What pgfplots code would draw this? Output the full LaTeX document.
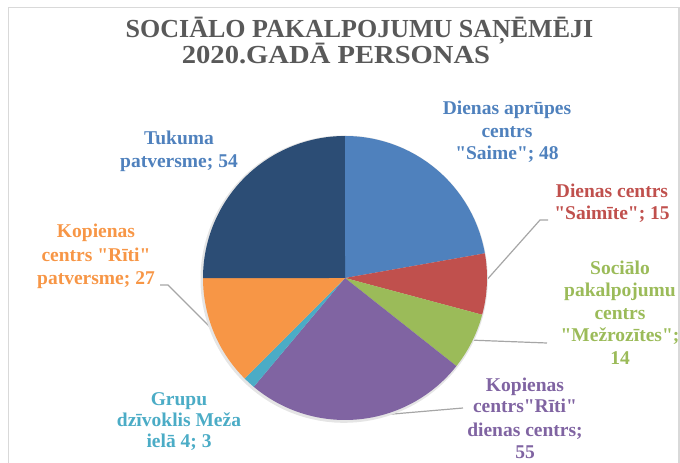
\documentclass[border=0pt]{standalone}
\usepackage{fontspec}
\setmainfont{Liberation Serif}
\usepackage{pgfplots}
\pgfplotsset{compat=1.18}
\definecolor{cBlue}{HTML}{4F81BD}
\definecolor{cRed}{HTML}{C0504D}
\definecolor{cGreen}{HTML}{9BBB59}
\definecolor{cPurple}{HTML}{8064A2}
\definecolor{cAqua}{HTML}{4BACC6}
\definecolor{cOrange}{HTML}{F79646}
\definecolor{cDark}{HTML}{2C4D75}
\definecolor{cTitle}{HTML}{595959}
\definecolor{cFrame}{HTML}{D9D9D9}
\definecolor{cLead}{HTML}{A6A6A6}
% slice values (clockwise from 12 o'clock)
\def\vA{48}\def\vB{15}\def\vC{14}\def\vD{55}\def\vE{3}\def\vF{27}\def\vG{54}
\newcommand\q{\textquotedbl}
\begin{document}
\begin{tikzpicture}
\path[use as bounding box] (0pt,0pt) rectangle (680pt,463pt);
\begin{scope}[yshift=463pt, x=1pt, y=-1pt]
\draw[cFrame, line width=1.5pt] (8.5,463) -- (8.5,7.5) -- (679,7.5) -- (679,463);
% leader lines
\draw[cLead, line width=1.2pt] (484,283) -- (540,220) -- (548,220);
\draw[cLead, line width=1.2pt] (468,340) -- (547,343);
\draw[cLead, line width=1.2pt] (358,417) -- (463,408);
\draw[cLead, line width=1.2pt] (216,333) -- (168,285) -- (160,285);
\end{scope}
\pgfmathsetmacro\tot{\vA+\vB+\vC+\vD+\vE+\vF+\vG}
\pgfmathsetmacro\aA{90}
\pgfmathsetmacro\aB{\aA-\vA/\tot*360}
\pgfmathsetmacro\aC{\aB-\vB/\tot*360}
\pgfmathsetmacro\aD{\aC-\vC/\tot*360}
\pgfmathsetmacro\aE{\aD-\vD/\tot*360}
\pgfmathsetmacro\aF{\aE-\vE/\tot*360}
\pgfmathsetmacro\aG{\aF-\vF/\tot*360}
\pgfmathsetmacro\aH{\aG-\vG/\tot*360}
\begin{axis}[at={(345pt,185pt)}, anchor=center, scale only axis,
  width=284pt, height=284pt, xmin=-1, xmax=1, ymin=-1, ymax=1,
  hide axis, clip=false]
\addplot[fill=black!10, draw=none, domain=0:360, samples=120, variable=\t] ({1.012*cos(\t)-0.006},{1.012*sin(\t)-0.008});
\addplot[fill=cBlue, draw=none, domain=\aB:\aA, samples=80, variable=\t] ({cos(\t)},{sin(\t)}) -- (axis cs:0,0) -- cycle;
\addplot[fill=cRed, draw=none, domain=\aC:\aB, samples=40, variable=\t] ({cos(\t)},{sin(\t)}) -- (axis cs:0,0) -- cycle;
\addplot[fill=cGreen, draw=none, domain=\aD:\aC, samples=40, variable=\t] ({cos(\t)},{sin(\t)}) -- (axis cs:0,0) -- cycle;
\addplot[fill=cPurple, draw=none, domain=\aE:\aD, samples=80, variable=\t] ({cos(\t)},{sin(\t)}) -- (axis cs:0,0) -- cycle;
\addplot[fill=cAqua, draw=none, domain=\aF:\aE, samples=10, variable=\t] ({cos(\t)},{sin(\t)}) -- (axis cs:0,0) -- cycle;
\addplot[fill=cOrange, draw=none, domain=\aG:\aF, samples=40, variable=\t] ({cos(\t)},{sin(\t)}) -- (axis cs:0,0) -- cycle;
\addplot[fill=cDark, draw=none, domain=\aH:\aG, samples=80, variable=\t] ({cos(\t)},{sin(\t)}) -- (axis cs:0,0) -- cycle;
\end{axis}
\begin{scope}[yshift=463pt, x=1pt, y=-1pt]
% title
\begin{scope}[every node/.style={anchor=base, inner sep=0pt, text=cTitle, font=\fontsize{26}{30}\selectfont\bfseries}]
\node at (359.5,38) {SOCIĀLO PAKALPOJUMU SAŅĒMĒJI};
\node[xscale=1.1] at (336,64) {2020.GADĀ PERSONAS};
\end{scope}
% labels
\begin{scope}[every node/.style={anchor=base, inner sep=0pt, font=\fontsize{19.5}{22}\selectfont\bfseries}]
\node[text=cBlue] at (507,115) {Dienas aprūpes};
\node[text=cBlue] at (507,138) {centrs};
\node[text=cBlue] at (507,160) {\q Saime\q; 48};
\node[text=cRed] at (612,198) {Dienas centrs};
\node[text=cRed] at (612,220) {\q Saimīte\q; 15};
\node[text=cGreen] at (620,275) {Sociālo};
\node[text=cGreen] at (620,297) {pakalpojumu};
\node[text=cGreen] at (620,320) {centrs};
\node[text=cGreen] at (620,342) {\q Mežrozītes\q;};
\node[text=cGreen] at (620,365) {14};
\node[text=cPurple] at (525,392) {Kopienas};
\node[text=cPurple] at (525,413) {centrs\q Rīti\q};
\node[text=cPurple] at (525,437) {dienas centrs;};
\node[text=cPurple] at (525,459) {55};
\node[text=cAqua] at (179,406) {Grupu};
\node[text=cAqua] at (179,427) {dzīvoklis Meža};
\node[text=cAqua] at (179,448) {ielā 4; 3};
\node[text=cOrange] at (96,238) {Kopienas};
\node[text=cOrange] at (96,262) {centrs \q Rīti\q};
\node[text=cOrange] at (96,285) {patversme; 27};
\node[text=cBlue] at (179,145) {Tukuma};
\node[text=cBlue] at (179,168) {patversme; 54};
\end{scope}
\end{scope}
\end{tikzpicture}
\end{document}
